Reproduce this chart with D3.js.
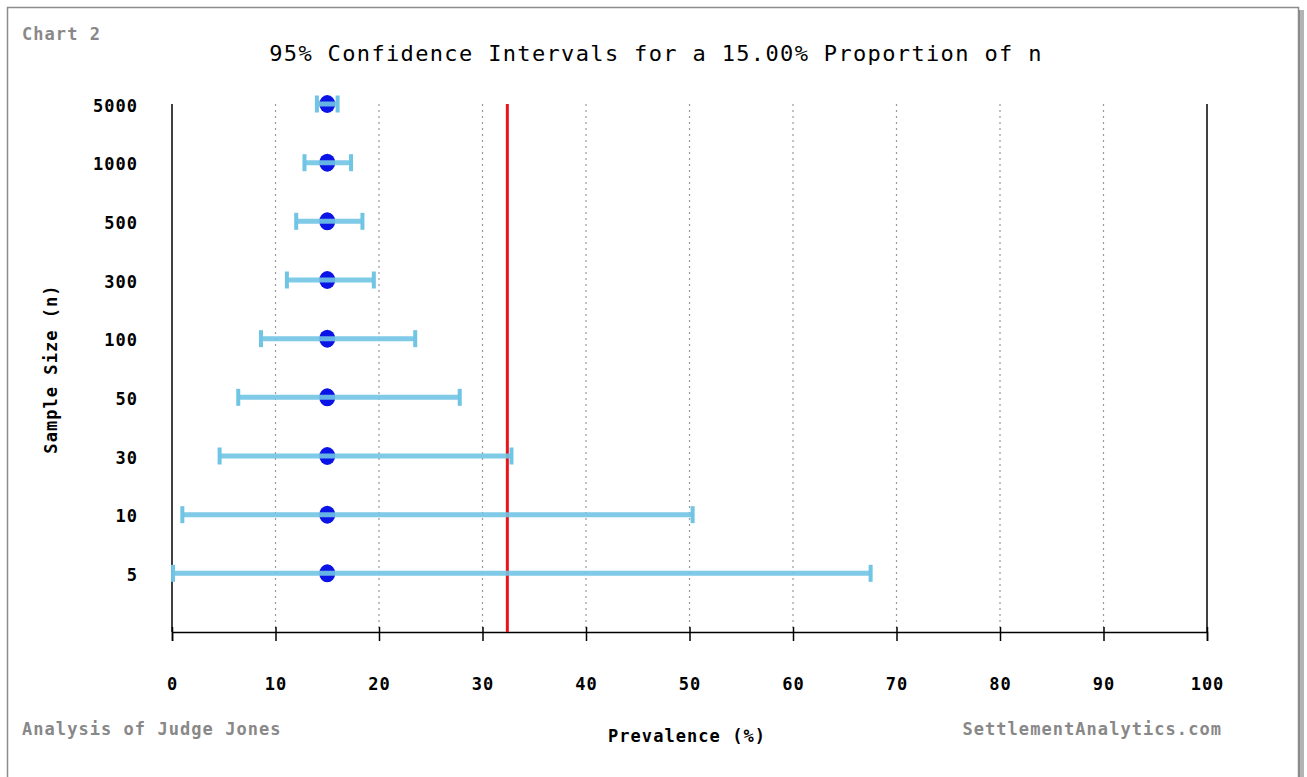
<!DOCTYPE html>
<html>
<head>
<meta charset="utf-8">
<script src="https://cdn.jsdelivr.net/npm/d3@7"></script>
<style>
  html, body { margin: 0; padding: 0; background: #fff; }
  svg { display: block; }
  text { font-family: "DejaVu Sans Mono", "Liberation Mono", monospace; }
</style>
</head>
<body>
<svg id="chart" width="1307" height="777"></svg>
<script>
// Sample sizes, bottom to top
const sampleSizes = ["5", "10", "30", "50", "100", "300", "500", "1000", "5000"];
// Observed proportion (%) for every sample size
const pointValues = [15, 15, 15, 15, 15, 15, 15, 15, 15];
// 95% confidence bounds (%)
const lowerBounds = [0.1, 1.0, 4.6, 6.4, 8.6, 11.1, 12.0, 12.8, 14.0];
const upperBounds = [67.5, 50.3, 32.8, 27.8, 23.5, 19.5, 18.4, 17.3, 16.0];
// Reference line (%)
const referenceValue = 32.4;
// Axis ticks
const xTicks = [0, 10, 20, 30, 40, 50, 60, 70, 80, 90, 100];

const svg = d3.select("#chart");
const W = 1307, H = 777;
const plot = { left: 172, right: 1207, top: 104, bottom: 632 };
const labelFont = "'DejaVu Sans Mono', monospace";

// Frame with shadow on the right
svg.append("rect").attr("x", 1298).attr("y", 10).attr("width", 6).attr("height", H)
  .attr("fill", "#b4b4b4");
svg.append("rect").attr("x", 1298).attr("y", 10).attr("width", 2).attr("height", H)
  .attr("fill", "#8a8a8a");
svg.append("rect").attr("x", 7.5).attr("y", 7.5).attr("width", 1291).attr("height", H)
  .attr("fill", "#fff").attr("stroke", "#8c8c8c").attr("stroke-width", 1.5);

const x = d3.scaleLinear().domain([0, 100]).range([plot.left, plot.right]);
const y = d3.scaleLinear().domain([0, sampleSizes.length]).range([plot.bottom, plot.top]);

const rows = sampleSizes.map((n, i) => ({
  n, pos: i + 1, p: pointValues[i], lo: lowerBounds[i], hi: upperBounds[i]
}));

// Dotted vertical gridlines
svg.append("g").selectAll("line").data(xTicks.filter(t => t > 0 && t < 100)).join("line")
  .attr("x1", d => x(d)).attr("x2", d => x(d))
  .attr("y1", plot.top).attr("y2", plot.bottom)
  .attr("stroke", "#9a9a9a").attr("stroke-width", 1.2)
  .attr("stroke-dasharray", "2,4");

// Left and right frame lines of the plot
svg.append("line").attr("x1", plot.left).attr("x2", plot.left)
  .attr("y1", plot.top).attr("y2", plot.bottom).attr("stroke", "#000").attr("stroke-width", 1.5);
svg.append("line").attr("x1", plot.right).attr("x2", plot.right)
  .attr("y1", plot.top).attr("y2", plot.bottom).attr("stroke", "#000").attr("stroke-width", 1.5);

// X axis
const xAxis = d3.axisBottom(x).tickValues(xTicks).tickSize(9).tickPadding(37)
  .tickFormat(d3.format("d"));
const gx = svg.append("g").attr("transform", `translate(0,${plot.bottom})`).call(xAxis);
gx.select(".domain").attr("stroke", "#000").attr("stroke-width", 1.5);
gx.selectAll(".tick line").attr("stroke", "#000").attr("stroke-width", 1.5).attr("y1", -5);
gx.selectAll(".tick text")
  .attr("font-family", labelFont)
  .attr("font-size", 17).attr("font-weight", "bold").attr("fill", "#000")
  .attr("letter-spacing", 1);

// Y axis labels (no ticks)
const yAxis = d3.axisLeft(y).tickValues(rows.map(r => r.pos)).tickSize(0).tickPadding(34)
  .tickFormat((d) => sampleSizes[d - 1]);
const gy = svg.append("g").attr("transform", `translate(${plot.left},0)`).call(yAxis);
gy.select(".domain").remove();
gy.selectAll(".tick text")
  .attr("font-family", labelFont)
  .attr("font-size", 17).attr("font-weight", "bold").attr("fill", "#000")
  .attr("letter-spacing", 1).attr("dy", "0.42em");

// Reference line
svg.append("line")
  .attr("x1", x(referenceValue)).attr("x2", x(referenceValue))
  .attr("y1", plot.top).attr("y2", plot.bottom)
  .attr("stroke", "#e8141b").attr("stroke-width", 3);

// Points
svg.append("g").selectAll("ellipse").data(rows).join("ellipse")
  .attr("cx", d => x(d.p)).attr("cy", d => y(d.pos)).attr("rx", 8).attr("ry", 9)
  .attr("fill", "#0a14e6");

// Error bars
const bars = svg.append("g").attr("stroke", "#70c4e4").attr("fill", "none");
bars.selectAll("line.bar").data(rows).join("line").attr("class", "bar")
  .attr("x1", d => x(d.lo)).attr("x2", d => x(d.hi))
  .attr("y1", d => y(d.pos)).attr("y2", d => y(d.pos))
  .attr("stroke-width", 5).attr("stroke-opacity", 0.9);
bars.selectAll("line.lo").data(rows).join("line").attr("class", "lo")
  .attr("x1", d => x(d.lo)).attr("x2", d => x(d.lo))
  .attr("y1", d => y(d.pos) - 8.5).attr("y2", d => y(d.pos) + 8.5)
  .attr("stroke-width", 4);
bars.selectAll("line.hi").data(rows).join("line").attr("class", "hi")
  .attr("x1", d => x(d.hi)).attr("x2", d => x(d.hi))
  .attr("y1", d => y(d.pos) - 8.5).attr("y2", d => y(d.pos) + 8.5)
  .attr("stroke-width", 4);

// Titles and notes
const txt = (s, px, py, opts = {}) => svg.append("text")
  .attr("x", px).attr("y", py).text(s)
  .attr("font-size", opts.size || 17)
  .attr("font-weight", opts.weight || "bold")
  .attr("fill", opts.fill || "#000")
  .attr("letter-spacing", opts.ls != null ? opts.ls : 1.05)
  .attr("text-anchor", opts.anchor || "start")
  .attr("transform", opts.transform || null);

txt("95% Confidence Intervals for a 15.00% Proportion of n", 656, 61,
  { size: 22, weight: "normal", ls: 1.35, anchor: "middle" });
txt("Chart 2", 22, 40, { fill: "#888" });
txt("Analysis of Judge Jones", 22, 735, { fill: "#888" });
txt("SettlementAnalytics.com", 1222, 735, { fill: "#888", anchor: "end" });
txt("Prevalence (%)", 687, 742, { anchor: "middle" });
txt("Sample Size (n)", 0, 0, { anchor: "middle", transform: "translate(57,369) rotate(-90)" });
</script>
</body>
</html>
